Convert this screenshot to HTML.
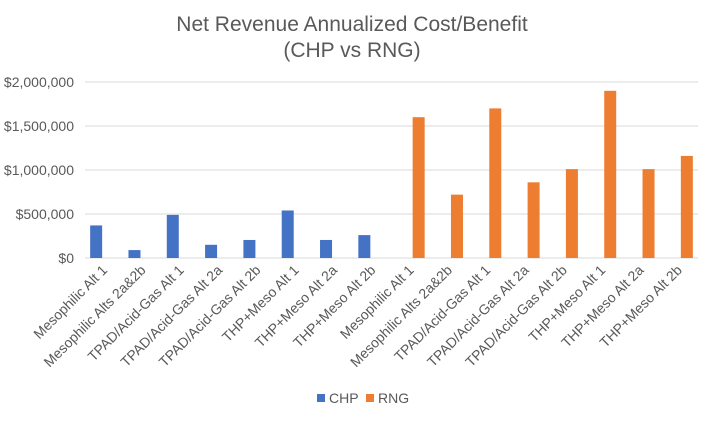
<!DOCTYPE html>
<html><head><meta charset="utf-8"><style>
body{margin:0;background:#fff;}
svg text{font-family:"Liberation Sans",sans-serif;fill:#595959;}
</style></head><body>
<svg width="704" height="416">
<text x="352" y="31" text-anchor="middle" font-size="21">Net Revenue Annualized Cost/Benefit</text>
<text x="352" y="57" text-anchor="middle" font-size="21">(CHP vs RNG)</text>
<g id="grid"></g><g id="bars"></g><g id="labels"></g>
<g>
<rect x="317" y="394" width="8" height="8" fill="#4472C4"/>
<text x="329" y="403" font-size="14">CHP</text>
<rect x="366" y="394" width="8" height="8" fill="#ED7D31"/>
<text x="378" y="403" font-size="14">RNG</text>
</g>
</svg>
<script>
const categories=["Mesophilic Alt 1","Mesophilic Alts 2a&2b","TPAD/Acid-Gas Alt 1","TPAD/Acid-Gas Alt 2a","TPAD/Acid-Gas Alt 2b","THP+Meso Alt 1","THP+Meso Alt 2a","THP+Meso Alt 2b","Mesophilic Alt 1","Mesophilic Alts 2a&2b","TPAD/Acid-Gas Alt 1","TPAD/Acid-Gas Alt 2a","TPAD/Acid-Gas Alt 2b","THP+Meso Alt 1","THP+Meso Alt 2a","THP+Meso Alt 2b"];
const chpValues=[370000,90000,490000,150000,205000,540000,205000,260000,null,null,null,null,null,null,null,null];
const rngValues=[null,null,null,null,null,null,null,null,1600000,720000,1700000,860000,1010000,1900000,1010000,1160000];
const tickValues=[0,500000,1000000,1500000,2000000];
const tickLabels=["$0","$500,000","$1,000,000","$1,500,000","$2,000,000"];
const NS="http://www.w3.org/2000/svg";
const x0=85,x1=698,y0=258,yTop=82;
const w=(x1-x0)/categories.length;
const y=v=>y0-(v/2000000)*(y0-yTop);
const cx=i=>x0+w*(i+0.5);
function mk(t,a,p){const e=document.createElementNS(NS,t);for(const k in a)e.setAttribute(k,a[k]);p.appendChild(e);return e;}
const grid=document.getElementById('grid'),bars=document.getElementById('bars'),labels=document.getElementById('labels');
tickValues.forEach((v,i)=>{
 const l=mk('line',{x1:x0,x2:x1,y1:y(v),y2:y(v),stroke:'#d9d9d9','stroke-width':1},grid);
 
 
 const t=mk('text',{x:74,y:y(v)+5,'text-anchor':'end','font-size':14},grid);
 t.textContent=tickLabels[i];
 
 
});
const bw=12;
categories.forEach((c,i)=>{
 if(chpValues[i]!=null){
  const r=mk('rect',{x:cx(i)-8-bw/2,y:y(chpValues[i]),width:bw,height:y0-y(chpValues[i]),fill:'#4472C4'},bars);
  
  
 }
 if(rngValues[i]!=null){
  const r=mk('rect',{x:cx(i)+8-bw/2,y:y(rngValues[i]),width:bw,height:y0-y(rngValues[i]),fill:'#ED7D31'},bars);
  
  
 }
 const tx=cx(i)+4,ty=271;
 const t=mk('text',{x:tx,y:ty,'text-anchor':'end','font-size':14,transform:`rotate(-45 ${tx} ${ty})`},labels);
 t.textContent=c;
 
 
});
</script>
</body></html>
